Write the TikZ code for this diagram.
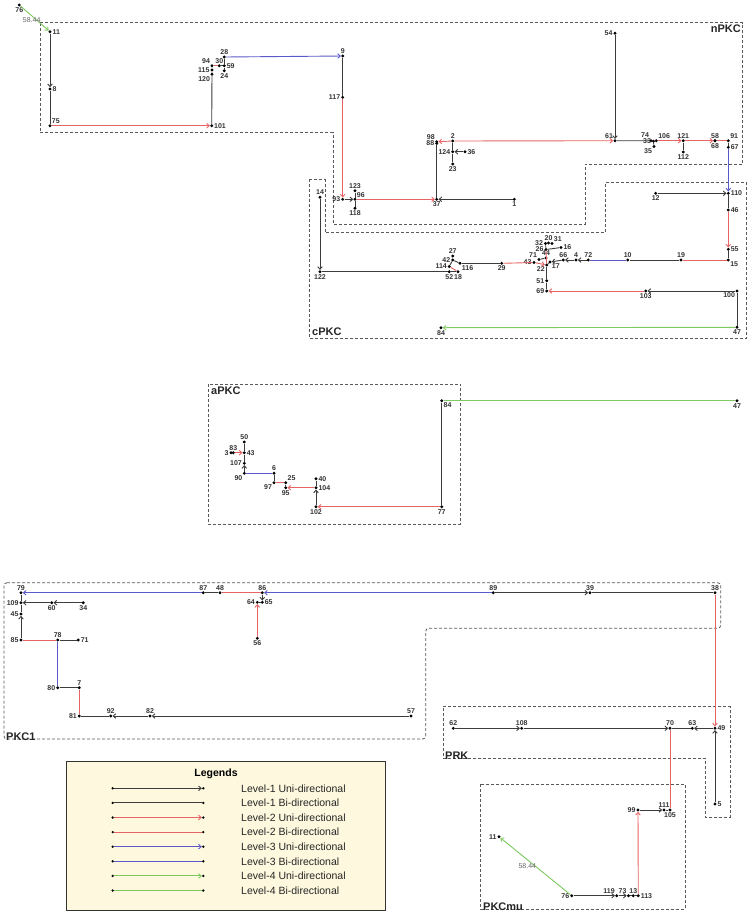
\documentclass[tikz,border=0pt]{standalone}
\usepackage{fontspec}
\setmainfont{Liberation Sans}
\usetikzlibrary{arrows.meta}
\definecolor{lvone}{RGB}{60,60,60}
\definecolor{lvtwo}{RGB}{232,100,100}
\definecolor{lvthree}{RGB}{90,90,200}
\definecolor{lvfour}{RGB}{125,200,95}
\definecolor{legbg}{RGB}{253,248,222}
\begin{document}
\begin{tikzpicture}[x=1pt,y=-1pt,
    dot/.style={circle,fill=black,inner sep=0pt,minimum size=3.2pt},
    every label/.style={font=\fontsize{7}{8}\selectfont\bfseries,text=black!80,inner sep=0.5pt},
    tip/.style={-{Straight Barb[length=2.6pt,width=4.6pt]}},
    oneu/.style={lvone,line width=0.9pt,tip},
    oneb/.style={lvone,line width=0.9pt},
    twou/.style={lvtwo,line width=0.9pt,tip},
    twob/.style={lvtwo,line width=0.9pt},
    threeu/.style={lvthree,line width=0.9pt,tip},
    threeb/.style={lvthree,line width=0.9pt},
    fouru/.style={lvfour,line width=0.9pt,tip},
    fourb/.style={lvfour,line width=0.9pt},
    group/.style={black!65,line width=0.8pt,dash pattern=on 3pt off 2pt},
    groupname/.style={font=\fontsize{11}{13}\selectfont\bfseries,text=black!85,inner sep=0pt},
    weight/.style={font=\fontsize{7}{8}\selectfont,text=black!60}
    ]
\useasboundingbox (0,0) rectangle (751,914);

% group outlines
\draw[group] (40,22.7) -- (742.7,22.7) -- (742.7,164.3) -- (585,164.3) -- (585,224) -- (333,224) -- (333,132.7) -- (40,132.7) -- cycle;
\draw[group] (309.3,179.3) -- (325,179.3) -- (325,232.7) -- (605,232.7) -- (605,182.7) -- (746.7,182.7) -- (746.7,338) -- (309.3,338) -- cycle;
\draw[group] (208.3,384) rectangle (460.7,524);
\draw[group,rounded corners=3pt] (4,582.7) -- (720.7,582.7) -- (720.7,628.3) -- (425.7,628.3) -- (425.7,739) -- (4,739) -- cycle;
\draw[group] (443.3,706.7) -- (730,706.7) -- (730,817.3) -- (705.7,817.3) -- (705.7,758.3) -- (443.3,758.3) -- cycle;
\draw[group] (480.7,784) rectangle (685,909);

\node[groupname,anchor=north east] (tnPKC) at (741,25) {nPKC};
\node[groupname,anchor=south west] (tcPKC) at (312,336) {cPKC};
\node[groupname,anchor=north west] (taPKC) at (211,387) {aPKC};
\node[groupname,anchor=south west] (tPKCa) at (6,741) {PKC1};
\node[groupname,anchor=south west] (tPRK) at (445,760) {PRK};
\node[groupname,anchor=south west] (tPKCmu) at (483,911) {PKCmu};

% nPKC
\node[dot,label=below:76] (n76) at (19.3,5) {};
\node[dot,label=right:11] (n11) at (50,31.7) {};
\node[dot,label=right:8] (n8) at (50,89) {};
\node[dot,label=above right:75] (n75) at (50,125.7) {};
\node[dot,label=right:101] (n101) at (211.7,125.7) {};
\node[dot,label=above left:94] (n94) at (212,65.7) {};
\node[dot,label=left:115] (n115) at (212,70) {};
\node[dot,label=below left:120] (n120) at (212,74.3) {};
\node[dot,label=above:30] (n30) at (219.3,65.7) {};
\node[dot,label=right:59] (n59) at (224.3,65.7) {};
\node[dot,label=above:28] (n28) at (224.3,57) {};
\node[dot,label=below:24] (n24) at (224.3,70.7) {};
\node[dot,label=above:9] (n9) at (342.7,56) {};
\node[dot,label=left:117] (n117) at (342.7,97.3) {};
\node[dot,label=left:93] (n93) at (342.7,199.3) {};
\node[dot,label=above:123] (n123) at (355,190.7) {};
\node[dot,label=above right:96] (n96) at (355,199.3) {};
\node[dot,label=below:118] (n118) at (355,208.3) {};
\node[dot,label=below:37] (n37) at (436.7,199.3) {};
\node[dot,label=below:1] (n1) at (514.3,199.3) {};
\node[dot,label=above left:98] (n98) at (436.7,141.7) {};
\node[dot,label=left:88] (n88) at (436.7,143.5) {};
\node[dot,label=above:2] (n2) at (452.7,141) {};
\node[dot,label=left:124] (n124) at (452.7,151.7) {};
\node[dot,label=right:36] (n36) at (465,151.7) {};
\node[dot,label=below:23] (n23) at (452.7,164) {};
\node[dot,label=left:54] (n54) at (615,33.3) {};
\node[dot,label=above left:61] (n61) at (615,140.7) {};
\node[dot,label={[yshift=1.5pt]above left:74}] (n74) at (651,140.7) {};
\node[dot,label=left:33] (n33) at (653.5,141.2) {};
\node[dot,label=below left:35] (n35) at (654,146.5) {};
\node[dot,label=above right:106] (n106) at (656.3,140.7) {};
\node[dot,label=above:121] (n121) at (683.3,140.7) {};
\node[dot,label=below:112] (n112) at (683.3,152) {};
\node[dot,label=above:58] (n58) at (715,140.7) {};
\node[dot,label=below:68] (n68) at (715,140.7) {};
\node[dot,label=above right:91] (n91) at (728.3,140.7) {};
\node[dot,label=right:67] (n67) at (728.3,147.3) {};

\draw[fouru] (n76) -- node[weight,xshift=-3pt,yshift=-2pt] {58.44} (n11);
\draw[oneu] (n11) -- (n8);
\draw[oneb] (n8) -- (n75);
\draw[twou] (n75) -- (n101);
\draw[oneb] (n101) -- (n120) -- (n115) -- (n94);
\draw[twob] (n94) -- (n30);
\draw[oneb] (n30) -- (n59);
\draw[oneb] (n28) -- (n59) -- (n24);
\draw[threeu] (n28) -- (n9);
\draw[oneb] (n9) -- (n117);
\draw[twou] (n117) -- (n93);
\draw[oneu] (n93) -- (n96);
\draw[oneb] (n123) -- (n96) -- (n118);
\draw[twou] (n96) -- (n37);
\draw[oneu] (n1) -- (n37);
\draw[oneb] (n37) -- (n98);
\draw[twou] (n2) -- (n98);
\draw[twou] (n2) -- (n61);
\draw[oneb] (n2) -- (n124) -- (n23);
\draw[oneu] (n36) -- (n124);
\draw[oneu] (n54) -- (n61);
\draw[oneb] (n61) -- (n74) -- (n33);
\draw[oneb] (n33) -- (n35);
\draw[twob] (n33) -- (n106);
\draw[twou] (n106) -- (n121);
\draw[twou] (n121) -- (n58);
\draw[twob] (n58) -- (n91);
\draw[oneb] (n121) -- (n112);
\draw[oneb] (n91) -- (n67);

% cPKC
\node[dot,label=right:110] (c110) at (728.3,193.3) {};
\node[dot,label=below:12] (c12) at (655.7,193.3) {};
\node[dot,label=right:46] (c46) at (728.3,210) {};
\node[dot,label=right:55] (c55) at (728.3,249.3) {};
\node[dot,label=below right:15] (c15) at (728.3,260) {};
\node[dot,label=above:19] (c19) at (681,260) {};
\node[dot,label=above:10] (c10) at (627.7,260) {};
\node[dot,label=above:72] (c72) at (588.3,260) {};
\node[dot,label=above:4] (c4) at (576,260) {};
\node[dot,label=above:66] (c66) at (563.3,260) {};
\node[dot,label=below right:17] (c17) at (550,262) {};
\node[dot,label=below left:22] (c22) at (546.7,265) {};
\node[dot,label=above:44] (c44) at (546,258) {};
\node[dot,label=above left:71] (c71) at (539,259.5) {};
\node[dot,label=left:43] (c43) at (534,262.5) {};
\node[dot,label=left:26] (c26) at (546,249.5) {};
\node[dot,label=left:32] (c32) at (545.5,243.5) {};
\node[dot,label=above:20] (c20) at (548.5,243) {};
\node[dot,label=above right:31] (c31) at (552,243.5) {};
\node[dot,label=right:16] (c16) at (561,247.5) {};
\node[dot,label=left:51] (c51) at (546.7,280.7) {};
\node[dot,label=left:69] (c69) at (546.7,291) {};
\node[dot,label=below:103] (c103) at (645.7,291) {};
\node[dot,label=below left:100] (c100) at (737,291) {};
\node[dot,label=below:47] (c47) at (737,327.3) {};
\node[dot,label=below:84] (c84) at (441,327.7) {};
\node[dot,label=above:14] (c14) at (320,197.3) {};
\node[dot,label=below:122] (c122) at (320,271.7) {};
\node[dot,label=above:27] (c27) at (452.7,256) {};
\node[dot,label=left:42] (c42) at (452.7,260) {};
\node[dot,label=left:114] (c114) at (449.3,266.5) {};
\node[dot,label=below right:116] (c116) at (460,263.3) {};
\node[dot,label=below:52] (c52) at (449.3,271.7) {};
\node[dot,label=below:18] (c18) at (458,271.7) {};
\node[dot,label=below:29] (c29) at (501.7,263.3) {};

\draw[threeu] (n67) -- (c110);
\draw[oneu] (c12) -- (c110);
\draw[oneb] (c110) -- (c46);
\draw[twou] (c46) -- (c55);
\draw[oneb] (c55) -- (c15);
\draw[twob] (c15) -- (c19);
\draw[oneb] (c19) -- (c10);
\draw[threeb] (c10) -- (c72);
\draw[oneu] (c72) -- (c4);
\draw[oneu] (c4) -- (c66);
\draw[oneu] (c66) -- (c17);
\draw[oneb] (c17) -- (c22);
\draw[oneb] (c44) -- (c71);
\draw[twob] (c26) -- (c22);
\draw[oneb] (c16) -- (c26) -- (c32);
\draw[oneb] (c32) -- (c20) -- (c31);
\draw[oneb] (c22) -- (c51) -- (c69);
\draw[oneu] (c100) -- (c103);
\draw[twou] (c103) -- (c69);
\draw[oneb] (c100) -- (c47);
\draw[fouru] (c47) -- (c84);
\draw[oneu] (c14) -- (c122);
\draw[oneb] (c122) -- (c52) -- (c18);
\draw[twob] (c18) -- (c114);
\draw[oneb] (c114) -- (c42) -- (c27);
\draw[oneb] (c42) -- (c116);
\draw[oneb] (c116) -- (c29);
\draw[twob] (c29) -- (c43);
\draw[twou] (c43) -- (c22);

% aPKC
\node[dot,label=below right:84] (a84) at (441.7,400.7) {};
\node[dot,label=below:47] (a47) at (737,400.7) {};
\node[dot,label=below:77] (a77) at (441.7,506.7) {};
\node[dot,label=below:102] (a102) at (316,506.7) {};
\node[dot,label=right:104] (a104) at (316,487.7) {};
\node[dot,label=right:40] (a40) at (316,478.7) {};
\node[dot,label=below:95] (a95) at (285.7,487.7) {};
\node[dot,label=above right:25] (a25) at (285.7,482.7) {};
\node[dot,label=below left:97] (a97) at (274,482.7) {};
\node[dot,label=above:6] (a6) at (274,473.3) {};
\node[dot,label=below left:90] (a90) at (244.3,473.3) {};
\node[dot,label=left:107] (a107) at (244.3,463.3) {};
\node[dot,label=right:43] (a43) at (244.3,452.7) {};
\node[dot,label=above:50] (a50) at (244.3,442) {};
\node[dot,label=above:83] (a83) at (233.3,452.7) {};
\node[dot,label=left:3] (a3) at (231,452.7) {};

\draw[fourb] (a84) -- (a47);
\draw[oneb] (a84) -- (a77);
\draw[twou] (a77) -- (a102);
\draw[oneu] (a102) -- (a104);
\draw[oneb] (a104) -- (a40);
\draw[twou] (a104) -- (a95);
\draw[oneb] (a95) -- (a25);
\draw[twob] (a25) -- (a97);
\draw[oneb] (a97) -- (a6);
\draw[threeb] (a6) -- (a90);
\draw[oneu] (a90) -- (a107);
\draw[oneb] (a107) -- (a43) -- (a50);
\draw[twou] (a83) -- (a43);

% PKC1
\node[dot,label=above:79] (p79) at (21,592.7) {};
\node[dot,label=above:87] (p87) at (203.3,592.7) {};
\node[dot,label=above:48] (p48) at (220,592.7) {};
\node[dot,label=above:86] (p86) at (262.3,592.7) {};
\node[dot,label=right:65] (p65) at (262.3,602.3) {};
\node[dot,label=left:64] (p64) at (257.3,602.3) {};
\node[dot,label=below:56] (p56) at (257.3,638.3) {};
\node[dot,label=left:109] (p109) at (21,602.7) {};
\node[dot,label=below:60] (p60) at (51.7,602.7) {};
\node[dot,label=below:34] (p34) at (83.3,602.7) {};
\node[dot,label=left:45] (p45) at (21,614) {};
\node[dot,label=left:85] (p85) at (21,640) {};
\node[dot,label=above:78] (p78) at (57.7,640) {};
\node[dot,label=right:71] (p71) at (78.3,640) {};
\node[dot,label=left:80] (p80) at (57.7,687.7) {};
\node[dot,label=above:7] (p7) at (79.3,687.7) {};
\node[dot,label=left:81] (p81) at (79.3,716) {};
\node[dot,label=above:92] (p92) at (110.7,716) {};
\node[dot,label=above:82] (p82) at (150,716) {};
\node[dot,label=above:57] (p57) at (411,716) {};
\node[dot,label=above:89] (p89) at (493.3,592.7) {};
\node[dot,label=above:39] (p39) at (590,592.7) {};
\node[dot,label=above:38] (p38) at (715,592.7) {};

\draw[threeu] (p87) -- (p79);
\draw[oneb] (p87) -- (p48);
\draw[twob] (p48) -- (p86);
\draw[threeu] (p89) -- (p86);
\draw[oneu] (p89) -- (p39);
\draw[oneb] (p39) -- (p38);
\draw[oneu] (p86) -- (p65);
\draw[oneb] (p64) -- (p65);
\draw[twou] (p56) -- (p64);
\draw[oneb] (p79) -- (p109);
\draw[oneu] (p34) -- (p60);
\draw[oneu] (p60) -- (p109);
\draw[oneb] (p109) -- (p45);
\draw[oneu] (p85) -- (p45);
\draw[twob] (p85) -- (p78);
\draw[oneb] (p78) -- (p71);
\draw[threeb] (p78) -- (p80);
\draw[oneb] (p80) -- (p7);
\draw[twob] (p7) -- (p81);
\draw[oneu] (p57) -- (p82);
\draw[oneu] (p82) -- (p92);
\draw[oneb] (p92) -- (p81);

% PRK
\node[dot,label=above:62] (r62) at (453.3,728.3) {};
\node[dot,label=above:108] (r108) at (521.7,728.3) {};
\node[dot,label=above:70] (r70) at (670,728.3) {};
\node[dot,label=above:63] (r63) at (692.3,728.3) {};
\node[dot,label=right:49] (r49) at (715,728.3) {};
\node[dot,label=right:5] (r5) at (715,804) {};

\draw[twou] (p38) -- (r49);
\draw[oneu] (r62) -- (r108);
\draw[oneu] (r108) -- (r70);
\draw[oneu] (r49) -- (r63);
\draw[oneb] (r63) -- (r70);
\draw[oneu] (r5) -- (r49);

% PKCmu
\node[dot,label=left:99] (m99) at (638,810) {};
\node[dot,label=above:111] (m111) at (664,810) {};
\node[dot,label=below:105] (m105) at (670,810) {};
\node[dot,label=left:11] (m11) at (499,836.7) {};
\node[dot,label=left:76] (m76) at (571.7,895.7) {};
\node[dot,label=above left:119] (m119) at (616.7,895.7) {};
\node[dot,label=above left:73] (m73) at (628.5,895.7) {};
\node[dot,label=above:13] (m13) at (633.3,895.7) {};
\node[dot,label=right:113] (m113) at (638.3,895.7) {};

\draw[twob] (r70) -- (m105);
\draw[oneu] (m99) -- (m111);
\draw[oneb] (m111) -- (m105);
\draw[fouru] (m76) -- node[weight,xshift=-8pt] {58.44} (m11);
\draw[oneu] (m76) -- (m119);
\draw[oneu] (m119) -- (m73);
\draw[oneb] (m73) -- (m13) -- (m113);
\draw[twou] (m113) -- (m99);

% legend
\draw[black!80,line width=0.9pt,fill=legbg] (66,761.7) rectangle (385,910);
\node[font=\fontsize{10.5}{12}\selectfont\bfseries] (lgtitle) at (216,773.3) {Legends};
\foreach \sty/\txt [count=\i] in {oneu/Level-1 Uni-directional,oneb/Level-1 Bi-directional,
    twou/Level-2 Uni-directional,twob/Level-2 Bi-directional,
    threeu/Level-3 Uni-directional,threeb/Level-3 Bi-directional,
    fouru/Level-4 Uni-directional,fourb/Level-4 Bi-directional}{
  \node[dot,minimum size=2.6pt] (lgs\i) at (112.7,773.7+14.6*\i) {};
  \node[dot,minimum size=2.6pt] (lge\i) at (203.3,773.7+14.6*\i) {};
  \draw[\sty] (lgs\i) -- (lge\i);
  \node[anchor=west,inner sep=0pt,font=\fontsize{10.5}{12}\selectfont,text=black!85] (lgt\i) at (241,773.7+14.6*\i) {\txt};
}
\end{tikzpicture}
\end{document}
